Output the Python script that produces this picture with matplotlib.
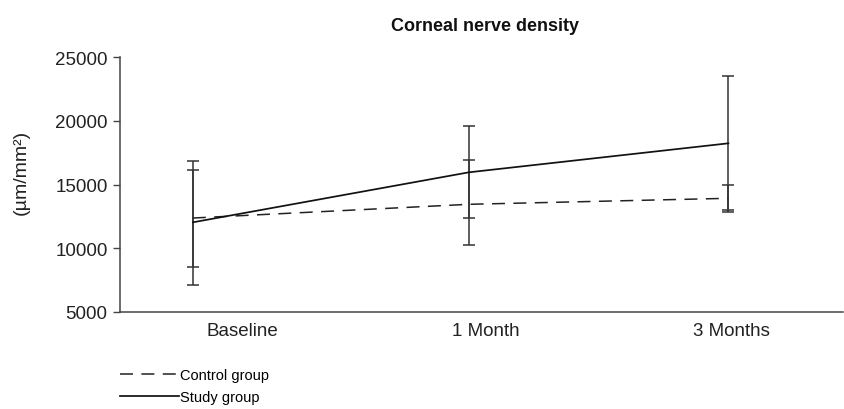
import matplotlib
matplotlib.use('Agg')
import matplotlib.pyplot as plt
import numpy as np

plt.rcParams['font.family'] = ['Liberation Sans', 'DejaVu Sans']

categories = ['Baseline', '1 Month', '3 Months']
x_pos = [0, 1, 1.94]
label_pos = [0.18, 1.06, 1.95]

study_mean = [12035, 15957, 18231]
study_low = [7141, 12349, 13000]
study_high = [16867, 19612, 23533]

control_mean = [12370, 13447, 13918]
control_low = [8553, 10278, 12875]
control_high = [16161, 16945, 14961]

study_err = [np.subtract(study_mean, study_low), np.subtract(study_high, study_mean)]
control_err = [np.subtract(control_mean, control_low), np.subtract(control_high, control_mean)]

fig = plt.figure(figsize=(8.44, 4.10), dpi=100)
ax = fig.add_axes([0.1422, 0.2366, 0.8566, 0.6219])

ax.errorbar(x_pos, control_mean, yerr=control_err, color='#222222', lw=1.1,
            dashes=(8.5, 5.5), capsize=4.5, elinewidth=1.1, capthick=1.1,
            ecolor='#333333', label='Control group')
ax.errorbar(x_pos, study_mean, yerr=study_err, color='#111111', lw=1.25,
            capsize=4.5, elinewidth=1.1, capthick=1.1,
            ecolor='#333333', label='Study group')

ax.set_ylim(5000, 25000)
ax.set_yticks([5000, 10000, 15000, 20000, 25000])
ax.set_xlim(-0.264, 2.355)
ax.set_xticks(label_pos)
ax.set_xticklabels(categories)
ax.tick_params(axis='x', length=0, labelsize=13.5, pad=7, colors='#222222')
ax.tick_params(axis='y', length=5, width=1, labelsize=13.5, pad=4, color='#444444', labelcolor='#222222')

for s in ['top', 'right']:
    ax.spines[s].set_visible(False)
for s in ['left', 'bottom']:
    ax.spines[s].set_color('#444444')
    ax.spines[s].set_linewidth(1.1)

ax.set_ylabel('(µm/mm²)', fontsize=14, color='#222222')
ax.yaxis.set_label_coords(-0.125, 0.55)
fig.text(0.575, 0.935, 'Corneal nerve density', ha='center', va='center',
         fontsize=13, fontweight='bold', color='#111111')

handles, labels = ax.get_legend_handles_labels()
handles = [h[0] for h in handles]
fig.legend(handles, labels, loc='upper left', bbox_to_anchor=(0.135, 0.115),
           frameon=False, fontsize=10.5, handlelength=4.05, handletextpad=0.1,
           labelspacing=0.6, borderaxespad=0)

fig.savefig('out.png', dpi=100)
